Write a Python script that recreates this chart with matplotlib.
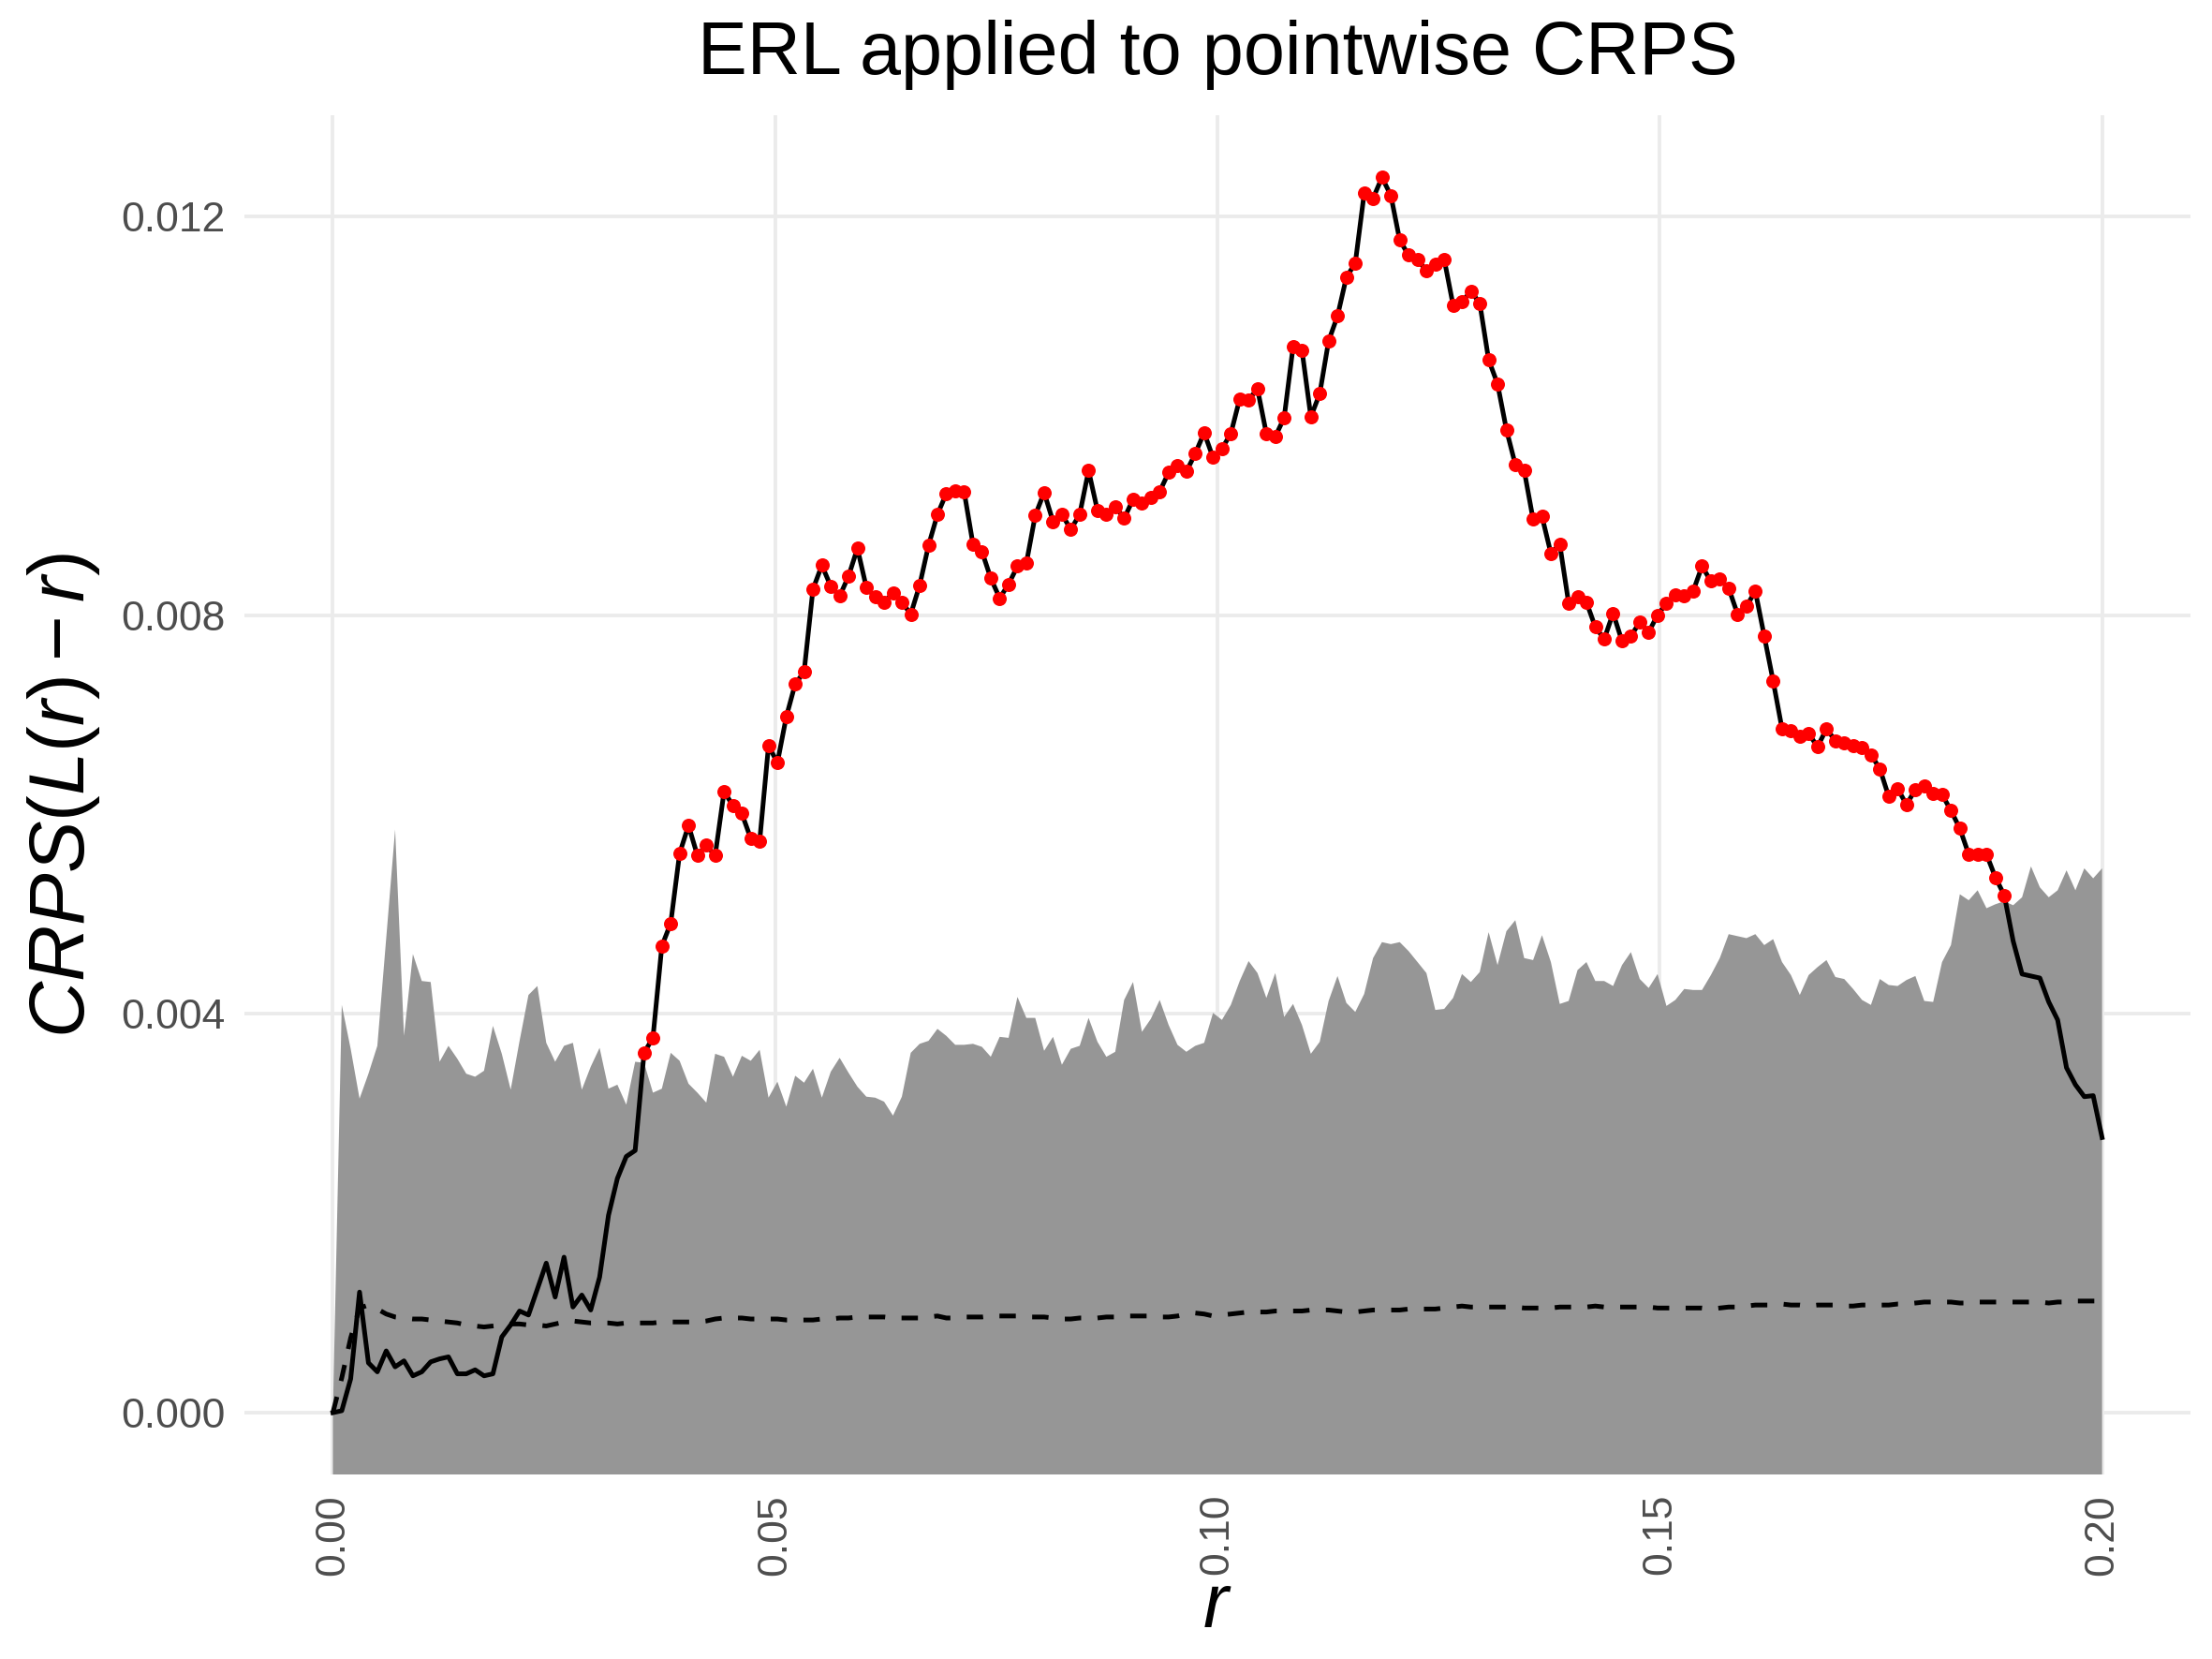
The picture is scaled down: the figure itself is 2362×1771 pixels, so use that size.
import numpy as np
import matplotlib
matplotlib.use("Agg")
import matplotlib.pyplot as plt

# ---------------- data (values in units of 1e-3) ----------------
r = np.linspace(0, 0.2, 200)

observed = [
    0.00, 0.02, 0.34, 1.21, 0.50, 0.41, 0.62, 0.46, 0.52, 0.37,
    0.41, 0.51, 0.54, 0.56, 0.39, 0.39, 0.43, 0.37, 0.39, 0.76,
    0.88, 1.02, 0.98, 1.24, 1.50, 1.16, 1.56, 1.06, 1.18, 1.03,
    1.36, 1.98, 2.35, 2.57, 2.63, 3.61, 3.76, 4.68, 4.91, 5.61,
    5.89, 5.59, 5.69, 5.59, 6.23, 6.09, 6.01, 5.76, 5.73, 6.69,
    6.52, 6.98, 7.31, 7.43, 8.26, 8.50, 8.29, 8.19, 8.39, 8.67,
    8.28, 8.18, 8.13, 8.22, 8.13, 8.01, 8.30, 8.70, 9.01, 9.22,
    9.25, 9.24, 8.71, 8.64, 8.37, 8.17, 8.31, 8.49, 8.52, 9.00,
    9.23, 8.94, 9.01, 8.86, 9.01, 9.45, 9.05, 9.01, 9.09, 8.97,
    9.16, 9.12, 9.18, 9.24, 9.43, 9.50, 9.44, 9.62, 9.83, 9.58,
    9.67, 9.82, 10.17, 10.16, 10.27, 9.82, 9.79, 9.98, 10.69, 10.66,
    9.99, 10.22, 10.75, 11.00, 11.39, 11.53, 12.23, 12.18, 12.39, 12.21,
    11.76, 11.61, 11.57, 11.45, 11.52, 11.57, 11.11, 11.14, 11.25, 11.13,
    10.56, 10.32, 9.86, 9.51, 9.45, 8.96, 8.99, 8.62, 8.71, 8.12,
    8.18, 8.13, 7.88, 7.76, 8.02, 7.74, 7.79, 7.93, 7.83, 8.00,
    8.12, 8.20, 8.19, 8.24, 8.49, 8.34, 8.36, 8.27, 8.01, 8.09,
    8.24, 7.79, 7.34, 6.86, 6.84, 6.78, 6.81, 6.68, 6.86, 6.74,
    6.72, 6.69, 6.67, 6.60, 6.46, 6.18, 6.26, 6.10, 6.25, 6.29,
    6.21, 6.20, 6.04, 5.86, 5.60, 5.60, 5.60, 5.37, 5.19, 4.73,
    4.40, 4.38, 4.36, 4.12, 3.94, 3.46, 3.29, 3.17, 3.18, 2.76,
]

envelope_upper = [
    0.00, 4.09, 3.65, 3.15, 3.40, 3.68, 4.76, 5.85, 3.78, 4.60,
    4.33, 4.32, 3.52, 3.68, 3.55, 3.40, 3.37, 3.43, 3.88, 3.60,
    3.24, 3.73, 4.19, 4.28, 3.71, 3.52, 3.68, 3.71, 3.24, 3.47,
    3.66, 3.25, 3.29, 3.09, 3.52, 3.51, 3.21, 3.25, 3.61, 3.53,
    3.30, 3.21, 3.11, 3.60, 3.57, 3.37, 3.58, 3.53, 3.64, 3.16,
    3.32, 3.07, 3.38, 3.31, 3.45, 3.16, 3.42, 3.56, 3.41, 3.27,
    3.17, 3.16, 3.12, 2.98, 3.17, 3.61, 3.70, 3.73, 3.85, 3.78,
    3.69, 3.69, 3.70, 3.67, 3.57, 3.77, 3.76, 4.17, 3.96, 3.96,
    3.63, 3.77, 3.49, 3.65, 3.68, 3.96, 3.72, 3.57, 3.62, 4.14,
    4.32, 3.82, 3.95, 4.14, 3.89, 3.69, 3.62, 3.68, 3.71, 4.01,
    3.94, 4.09, 4.33, 4.53, 4.41, 4.16, 4.41, 3.97, 4.10, 3.89,
    3.60, 3.72, 4.13, 4.38, 4.11, 4.02, 4.20, 4.56, 4.72, 4.70,
    4.72, 4.63, 4.52, 4.41, 4.04, 4.05, 4.16, 4.40, 4.32, 4.42,
    4.82, 4.49, 4.83, 4.94, 4.56, 4.54, 4.79, 4.52, 4.10, 4.13,
    4.44, 4.52, 4.33, 4.33, 4.28, 4.49, 4.62, 4.35, 4.26, 4.40,
    4.08, 4.14, 4.25, 4.24, 4.24, 4.39, 4.56, 4.80, 4.78, 4.76,
    4.80, 4.69, 4.75, 4.52, 4.39, 4.19, 4.39, 4.47, 4.54, 4.37,
    4.35, 4.25, 4.14, 4.09, 4.35, 4.29, 4.28, 4.34, 4.38, 4.13,
    4.12, 4.52, 4.69, 5.20, 5.14, 5.24, 5.06, 5.10, 5.13, 5.09,
    5.17, 5.48, 5.27, 5.17, 5.24, 5.44, 5.24, 5.46, 5.36, 5.46,
]

mean_curve = [
    0.00, 0.35, 0.75, 1.05, 1.08, 1.04, 0.99, 0.96, 0.95, 0.94,
    0.94, 0.93, 0.92, 0.91, 0.90, 0.88, 0.87, 0.86, 0.87, 0.88,
    0.89, 0.89, 0.88, 0.88, 0.87, 0.89, 0.91, 0.92, 0.91, 0.90,
    0.90, 0.90, 0.89, 0.90, 0.90, 0.90, 0.90, 0.91, 0.91, 0.91,
    0.91, 0.91, 0.92, 0.94, 0.95, 0.95, 0.95, 0.94, 0.94, 0.94,
    0.94, 0.93, 0.93, 0.93, 0.93, 0.94, 0.94, 0.95, 0.95, 0.96,
    0.96, 0.96, 0.96, 0.95, 0.95, 0.95, 0.95, 0.96, 0.97, 0.95,
    0.95, 0.96, 0.96, 0.96, 0.97, 0.97, 0.97, 0.97, 0.96, 0.96,
    0.96, 0.95, 0.94, 0.94, 0.95, 0.95, 0.95, 0.96, 0.96, 0.97,
    0.97, 0.97, 0.97, 0.96, 0.96, 0.97, 0.99, 1.00, 0.99, 0.97,
    0.98, 0.99, 1.00, 1.01, 1.01, 1.01, 1.02, 1.02, 1.02, 1.02,
    1.03, 1.03, 1.03, 1.02, 1.01, 1.01, 1.02, 1.03, 1.03, 1.03,
    1.03, 1.04, 1.04, 1.04, 1.04, 1.05, 1.06, 1.07, 1.06, 1.06,
    1.06, 1.06, 1.06, 1.06, 1.05, 1.05, 1.05, 1.05, 1.06, 1.06,
    1.06, 1.06, 1.07, 1.06, 1.06, 1.06, 1.06, 1.06, 1.06, 1.05,
    1.05, 1.05, 1.05, 1.05, 1.05, 1.04, 1.05, 1.06, 1.06, 1.07,
    1.08, 1.08, 1.08, 1.09, 1.08, 1.08, 1.07, 1.08, 1.08, 1.08,
    1.07, 1.07, 1.08, 1.08, 1.08, 1.08, 1.09, 1.09, 1.10, 1.11,
    1.11, 1.11, 1.11, 1.10, 1.10, 1.11, 1.11, 1.11, 1.11, 1.11,
    1.11, 1.11, 1.11, 1.10, 1.11, 1.11, 1.12, 1.12, 1.12, 1.12,
]

x_ticks = [0.00, 0.05, 0.10, 0.15, 0.20]
x_tick_labels = ["0.00", "0.05", "0.10", "0.15", "0.20"]
y_ticks = [0.000, 0.004, 0.008, 0.012]
y_tick_labels = ["0.000", "0.004", "0.008", "0.012"]

obs = np.array(observed) * 1e-3
upper = np.array(envelope_upper) * 1e-3
mean = np.array(mean_curve) * 1e-3
exceed = obs > upper

# ---------------- plotting ----------------
plt.rcParams["font.family"] = ["Liberation Sans", "DejaVu Sans"]
plt.rcParams["mathtext.fontset"] = "custom"
plt.rcParams["mathtext.rm"] = "Liberation Sans"
plt.rcParams["mathtext.it"] = "Liberation Sans:italic"

fig = plt.figure(figsize=(11.81, 8.855), dpi=200)
ax = fig.add_axes([0.1105, 0.1112, 0.8798, 0.8191])

ax.set_xlim(-0.01, 0.21)
ax.set_ylim(-0.00062, 0.01301)

grid_col = "#EBEBEB"
for xt in x_ticks:
    ax.axvline(xt, color=grid_col, lw=1.4, zorder=0)
for yt in y_ticks:
    ax.axhline(yt, color=grid_col, lw=1.4, zorder=0)

ax.fill_between(r, -1.0, upper, color="#969696", lw=0, zorder=1)
ax.plot(r, mean, color="black", lw=1.8, linestyle=(0, (3.5, 3.5)), zorder=2)
ax.plot(r, obs, color="black", lw=1.8, zorder=3)
ax.plot(r[exceed], obs[exceed], "o", color="#FF0000", ms=5.4, mec="none", zorder=4)

for s in ax.spines.values():
    s.set_visible(False)

ax.set_xticks(x_ticks)
ax.set_xticklabels(x_tick_labels, rotation=90, va="top", ha="center")
ax.set_yticks(y_ticks)
ax.set_yticklabels(y_tick_labels)
ax.tick_params(axis="both", length=0, labelsize=16, colors="#4D4D4D", pad=7.5)

fig.text(0.5504, 0.9555, "ERL applied to pointwise CRPS", ha="center", va="baseline",
         fontsize=28.5, color="black")
fig.text(0.5504, 0.031, r"$r$", ha="center", va="center", fontsize=29, color="black")
fig.text(0.0288, 0.5205, r"$CRPS(L(r)-r)$", ha="center", va="center", rotation=90,
         fontsize=30, color="black")

fig.savefig("out.png", dpi=200)
